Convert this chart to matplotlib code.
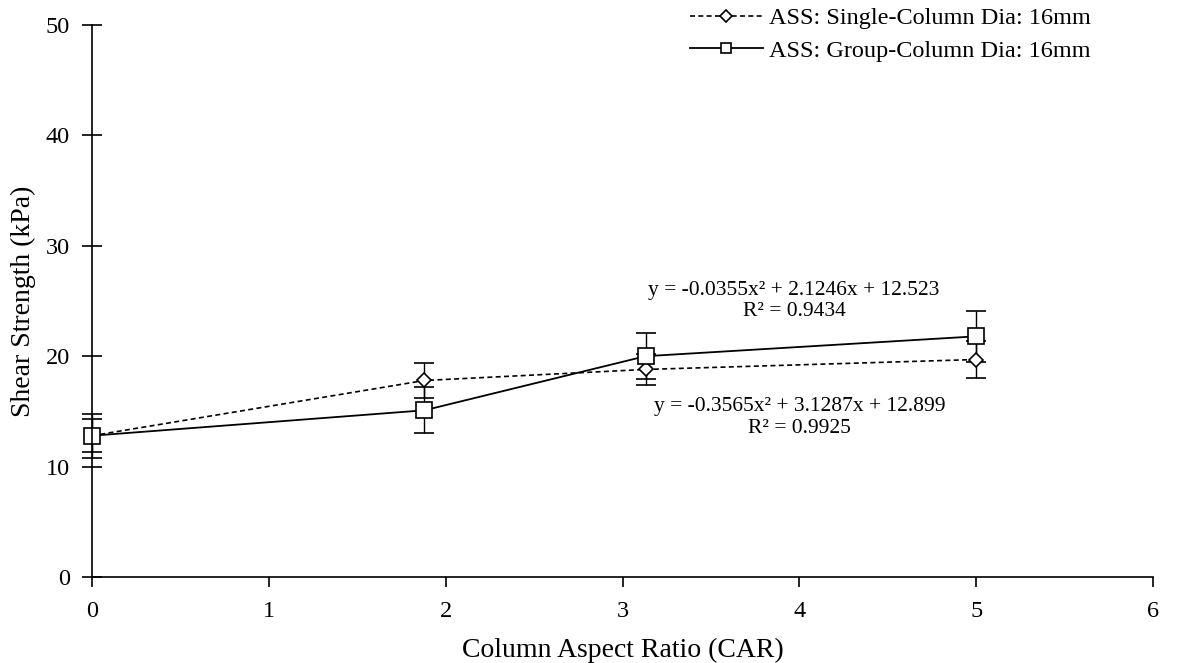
import numpy as np
import matplotlib
matplotlib.use("Agg")
import matplotlib.pyplot as plt
from matplotlib.lines import Line2D

plt.rcParams['font.family'] = ['Liberation Serif', 'DejaVu Serif']

car = [0, 1.88, 3.13, 5.0]
single_strength = [12.8, 17.8, 18.8, 19.7]
single_err = [1.5, 1.6, 1.4, 1.65]
group_strength = [12.8, 15.1, 20.0, 21.8]
group_err = [2.0, 2.1, 2.1, 2.3]

single_label = "ASS: Single-Column Dia: 16mm"
group_label = "ASS: Group-Column Dia: 16mm"
eq_upper = "y = -0.0355x\u00b2 + 2.1246x + 12.523\nR\u00b2 = 0.9434"
eq_lower = "y = -0.3565x\u00b2 + 3.1287x + 12.899\nR\u00b2 = 0.9925"

single_ls = (0, (3, 2))

fig = plt.figure(figsize=(11.78, 6.63), dpi=100)
ax = fig.add_axes([0.0781, 0.1297, 0.9007, 0.8326])

eb1 = ax.errorbar(car, single_strength, yerr=single_err, color='black', lw=1.2,
                  ls=single_ls, marker='D', ms=7, mfc='white', mec='black', mew=1.2,
                  elinewidth=1, capsize=7, capthick=1)
eb2 = ax.errorbar(car, group_strength, yerr=group_err, color='black', lw=1.3,
                  ls='-', marker='s', ms=11, mfc='white', mec='black', mew=1.2,
                  elinewidth=1, capsize=7, capthick=1)
for eb in (eb1, eb2):
    for art in eb.get_children():
        art.set_clip_on(False)

ax.text(3.97, 25.0, eq_upper, ha='center', va='center', fontsize=15.5, linespacing=1.15)
ax.text(4.0, 14.45, eq_lower, ha='center', va='center', fontsize=15.5, linespacing=1.15)

ax.set_xlim(0, 6)
ax.set_ylim(0, 50)
ax.set_xticks(range(0, 7))
ax.set_yticks(range(0, 51, 10))
ax.spines['top'].set_visible(False)
ax.spines['right'].set_visible(False)
ax.spines['left'].set_linewidth(1.2)
ax.spines['bottom'].set_linewidth(1.2)
ax.tick_params(axis='x', direction='out', length=7, width=1.2, labelsize=17.5, pad=10)
ax.tick_params(axis='y', direction='inout', length=14, width=1.2, labelsize=17.5, pad=9)

ax.set_xlabel("Column Aspect Ratio (CAR)", fontsize=20, labelpad=12)
ax.set_ylabel("Shear Strength (kPa)", fontsize=20, labelpad=7)

handles = [
    Line2D([], [], color='black', lw=1.2, ls=single_ls, marker='D', ms=6,
           mfc='white', mec='black', mew=1.2),
    Line2D([], [], color='black', lw=1.3, ls='-', marker='s', ms=7,
           mfc='white', mec='black', mew=1.2),
]
fig.legend(handles, [single_label, group_label], loc='upper left',
           bbox_to_anchor=(690 / 1178, 1 - 7 / 663), frameon=False, fontsize=17.5,
           handlelength=3.0, handletextpad=0.25, labelspacing=0.45,
           borderpad=0, borderaxespad=0)

fig.savefig("out.png", dpi=100)
